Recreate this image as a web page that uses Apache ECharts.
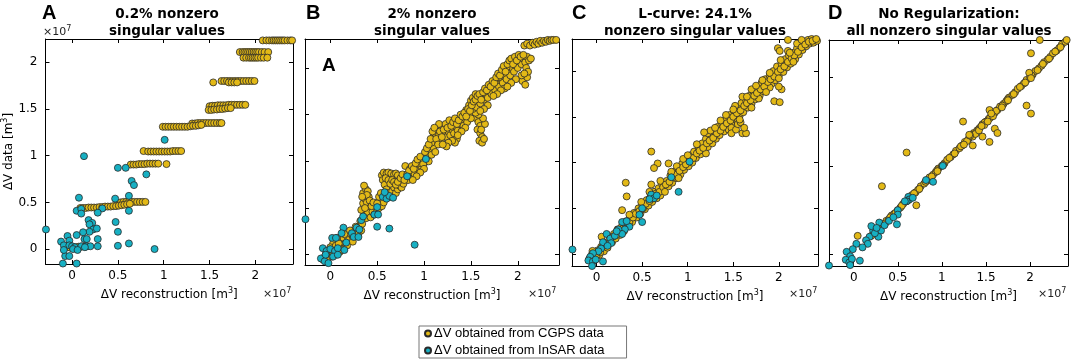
<!DOCTYPE html>
<html>
<head>
<meta charset="utf-8">
<script src="https://cdn.jsdelivr.net/npm/echarts@6/dist/echarts.min.js"></script>
<style>
  html, body { margin: 0; padding: 0; background: #fff; }
  #chart { width: 1072px; height: 361px; }
</style>
</head>
<body>
<div id="chart"></div>
<script>
// all values in units of 10^7 m^3, pairs are [reconstruction, data]
var tickValues = [0, 0.5, 1, 1.5, 2];

// A: 0.2% nonzero singular values
var aCgps = [
  [2.08,2.235],[2.12,2.235],[2.15,2.235],[2.18,2.235],[2.2,2.235],[2.22,2.235],[2.24,2.235],[2.26,2.235],[2.28,2.235],[2.3,2.235],[2.32,2.235],[2.35,2.235],[2.38,2.235],[2.4,2.235],
  [1.83,2.11],[1.86,2.11],[1.88,2.11],[1.9,2.11],[1.92,2.11],[1.94,2.11],[1.96,2.11],[1.98,2.11],[2.0,2.11],[2.02,2.11],[2.04,2.11],[2.07,2.11],[2.1,2.11],[2.14,2.11],
  [1.87,2.05],[1.9,2.05],[1.93,2.05],[1.95,2.05],[1.97,2.05],[1.99,2.05],[2.01,2.05],[2.03,2.05],[2.06,2.05],[2.09,2.05],[2.13,2.05],
  [1.54,1.785],[1.63,1.8],[1.66,1.8],[1.69,1.8],[1.72,1.8],[1.75,1.8],[1.78,1.8],[1.81,1.8],[1.84,1.8],[1.87,1.8],[1.9,1.8],[1.93,1.8],[1.96,1.8],[1.99,1.8],[1.71,1.785],[1.74,1.785],[1.77,1.785],[1.8,1.785],
  [1.5,1.53],[1.53,1.535],[1.56,1.535],[1.59,1.54],[1.62,1.54],[1.65,1.54],[1.68,1.54],[1.71,1.545],[1.74,1.545],[1.77,1.545],[1.8,1.545],[1.83,1.545],[1.86,1.545],[1.89,1.545],
  [1.49,1.49],[1.52,1.49],[1.55,1.495],[1.58,1.495],[1.61,1.5],[1.64,1.5],[1.67,1.505],[1.7,1.51],[1.73,1.51],
  [1.31,1.345],[1.34,1.345],[1.37,1.35],[1.4,1.35],[1.43,1.35],[1.46,1.35],[1.49,1.35],[1.52,1.35],[1.55,1.35],[1.58,1.35],[1.61,1.35],[1.63,1.35],
  [0.99,1.31],[1.02,1.31],[1.05,1.31],[1.08,1.31],[1.11,1.31],[1.14,1.31],[1.17,1.31],[1.2,1.31],[1.23,1.31],[1.26,1.31],[1.29,1.315],[1.32,1.32],[1.35,1.32],[1.38,1.325],[1.41,1.33],
  [0.78,1.05],[0.83,1.045],[0.86,1.045],[0.89,1.045],[0.92,1.045],[0.95,1.045],[0.98,1.045],[1.01,1.045],[1.04,1.045],[1.07,1.045],[1.1,1.05],[1.13,1.05],[1.16,1.05],[1.19,1.05],
  [0.64,0.905],[0.67,0.905],[0.7,0.905],[0.73,0.91],[0.76,0.91],[0.79,0.91],[0.82,0.915],[0.85,0.915],[0.88,0.915],[0.91,0.915],[0.94,0.915],[1.03,0.91],
  [0.5,0.49],[0.53,0.5],[0.56,0.505],[0.59,0.505],[0.62,0.505],[0.65,0.505],[0.68,0.505],[0.71,0.505],[0.74,0.505],[0.77,0.505],[0.8,0.505],
  [0.09,0.44],[0.12,0.44],[0.15,0.44],[0.18,0.445],[0.21,0.445],[0.24,0.445],[0.27,0.445],[0.3,0.45],[0.33,0.45],[0.36,0.455],[0.39,0.455],[0.42,0.455],[0.45,0.46],[0.48,0.46],[0.51,0.465],[0.54,0.47],[0.57,0.475],[0.6,0.48],[0.63,0.485],
  [-0.08,0.02],[-0.05,0.02],[-0.02,0.015],[0.01,0.02],[0.04,0.02],[0.07,0.025],[0.1,0.025],[0.13,0.03],[0.16,0.03]
];
var aInsar = [
  [1.01,1.17],[0.13,0.995],[0.5,0.87],[0.585,0.87],[0.81,0.8],[0.65,0.73],[0.675,0.685],[0.075,0.55],[0.47,0.54],[0.62,0.57],
  [0.05,0.41],[0.1,0.43],[0.1,0.38],[0.33,0.435],[0.28,0.39],[0.62,0.41],[0.475,0.29],[0.18,0.31],[0.22,0.28],[0.19,0.265],
  [0.23,0.21],[0.27,0.22],[0.19,0.185],[0.5,0.185],[0.12,0.18],[0.135,0.107],[0.16,0.107],[0.28,0.107],[0.05,0.15],[-0.05,0.14],
  [-0.12,0.08],[-0.03,0.09],[-0.09,0.04],[-0.03,0.04],[0.0,0.03],[0.03,0.02],[0.1,0.03],[0.16,0.03],[0.2,0.03],[0.28,0.03],
  [0.5,0.035],[0.62,0.06],[0.9,0.0],[-0.075,-0.075],[-0.03,-0.075],[-0.1,-0.155],[0.05,-0.155],[0.01,0.0],[0.06,-0.01],[0.14,0.02],
  [-0.09,-0.01],[-0.285,0.21]
];

// B: 2% nonzero singular values
var bCgps = [
  [-0.08,-0.05],[-0.05,0.0],[-0.02,-0.03],[0.0,0.02],[0.02,-0.02],[0.04,0.04],[0.06,0.0],[0.08,0.06],[0.05,0.1],[0.1,0.03],[0.12,0.1],[0.1,0.15],[0.14,0.18],[0.16,0.12],[0.18,0.2],[0.2,0.16],[0.22,0.22],[0.24,0.19],[0.26,0.25],[0.28,0.22],[0.03,0.12],[0.07,0.18],
  [0.3,0.3],[0.32,0.36],[0.34,0.33],[0.36,0.42],[0.33,0.48],[0.35,0.55],[0.37,0.6],[0.35,0.66],[0.38,0.7],[0.36,0.74],[0.4,0.68],[0.41,0.62],[0.39,0.56],[0.42,0.5],[0.4,0.45],[0.38,0.39],[0.43,0.4],[0.45,0.46],[0.47,0.43],[0.5,0.48],[0.48,0.52],[0.52,0.5],[0.55,0.52],[0.53,0.58],[0.57,0.56],
  [0.55,0.85],[0.57,0.88],[0.6,0.87],[0.62,0.88],[0.65,0.87],[0.68,0.86],[0.7,0.87],[0.72,0.85],[0.56,0.8],[0.58,0.75],[0.6,0.7],[0.62,0.66],[0.64,0.62],[0.66,0.68],[0.68,0.72],[0.7,0.66],[0.72,0.7],[0.74,0.74],[0.76,0.72],[0.78,0.76],[0.74,0.8],[0.8,0.82],[0.8,0.95],[0.83,0.8],[0.86,0.84],[0.88,0.88],[0.85,0.92],[0.9,0.86],[0.92,0.92],[0.95,0.9],[0.97,0.95],[0.94,0.98],[1.0,0.98],[0.98,1.02],[1.02,1.04],[1.05,1.0],[1.04,1.08],
  [1.06,1.12],[1.08,1.07],[1.1,1.15],[1.12,1.1],[1.08,1.2],[1.1,1.26],[1.12,1.3],[1.14,1.34],[1.16,1.28],[1.18,1.22],[1.2,1.3],[1.22,1.36],[1.24,1.26],[1.26,1.32],[1.28,1.28],[1.3,1.34],[1.32,1.3],[1.34,1.37],[1.36,1.33],[1.38,1.4],[1.35,1.24],[1.33,1.2],[1.18,1.38],[1.16,1.4],
  [1.56,1.46],[1.58,1.42],[1.6,1.38],[1.57,1.34],[1.6,1.3],[1.62,1.26],[1.59,1.22],[1.62,1.2],[1.64,1.24],[1.61,1.34],[1.65,1.4],[1.63,1.46],[1.58,1.5],[1.55,1.52],
  [1.4,1.44],[1.42,1.38],[1.44,1.46],[1.46,1.42],[1.48,1.5],[1.5,1.46],[1.45,1.55],[1.48,1.6],[1.5,1.65],[1.52,1.56],[1.54,1.62],[1.56,1.58],[1.58,1.66],[1.6,1.62],[1.62,1.7],[1.64,1.66],[1.66,1.72],[1.68,1.68],[1.7,1.76],[1.72,1.72],[1.52,1.68],[1.55,1.72],
  [1.74,1.8],[1.76,1.76],[1.78,1.84],[1.8,1.8],[1.82,1.88],[1.84,1.84],[1.86,1.92],[1.88,1.88],[1.9,1.96],[1.92,1.92],[1.94,2.0],[1.96,1.96],[1.98,2.04],[2.0,2.0],[2.02,2.08],[2.04,2.04],[2.06,2.1],[2.08,2.06],[2.1,2.12],[2.12,2.08],[2.14,2.1],[2.0,2.12],[1.96,2.1],[1.92,2.06],[1.88,2.0],[1.84,1.96],[1.8,1.9],[2.05,1.86],[2.08,1.82],[2.1,1.9],[2.04,1.92],[1.86,1.78],[1.98,1.88],
  [2.07,2.24],[2.1,2.26],[2.13,2.24],[2.16,2.27],[2.18,2.25],[2.2,2.28],[2.22,2.26],[2.24,2.29],[2.26,2.27],[2.28,2.29],[2.3,2.28],[2.32,2.3],[2.34,2.29],[2.36,2.3],[2.38,2.3],[2.41,2.3],
  [0.0,0.08],[0.03,0.0],[0.06,0.1],[0.09,0.12],[0.12,0.05],[0.15,0.22],[0.18,0.1],[0.21,0.26],[0.24,0.14],[0.27,0.3],[0.3,0.22],[0.33,0.26],[0.37,0.5],[0.39,0.64],[0.34,0.62],[0.42,0.58],[0.44,0.52],[0.46,0.56],[0.5,0.55],[0.52,0.62],
  [0.54,0.66],[0.57,0.62],[0.59,0.82],[0.62,0.8],[0.64,0.76],[0.66,0.8],[0.68,0.78],[0.7,0.75],[0.72,0.78],[0.75,0.82],[0.77,0.86],[0.79,0.8],[0.82,0.86],[0.84,0.9],[0.87,0.95],[0.89,0.92],[0.91,0.98],[0.93,1.02],[0.96,1.05],[0.99,0.97],
  [1.01,1.1],[1.03,1.14],[1.05,1.18],[1.07,1.24],[1.09,1.32],[1.11,1.36],[1.13,1.24],[1.15,1.18],[1.17,1.32],[1.19,1.26],[1.21,1.34],[1.23,1.4],[1.25,1.36],[1.27,1.44],[1.29,1.38],[1.31,1.42],[1.33,1.46],[1.35,1.4],[1.37,1.44],[1.39,1.5],
  [1.41,1.48],[1.43,1.52],[1.45,1.48],[1.47,1.56],[1.49,1.54],[1.51,1.6],[1.53,1.64],[1.55,1.66],[1.57,1.7],[1.59,1.72],[1.61,1.66],[1.63,1.74],[1.65,1.78],[1.67,1.76],[1.69,1.82],[1.71,1.8],[1.73,1.86],[1.75,1.84],[1.77,1.9],[1.79,1.94],
  [1.81,1.92],[1.83,1.98],[1.85,2.02],[1.87,1.96],[1.89,2.04],[1.91,2.08],[1.93,2.1],[1.95,2.04],[1.97,2.12],[1.99,2.08],[2.01,2.14],[2.03,2.12],[2.06,2.14],[2.09,2.0],[2.11,1.96],[2.07,1.94],[1.93,1.84],[1.89,1.8],[1.82,1.76],[1.78,1.72],
  [1.74,1.7],[1.68,1.6],[1.64,1.56],[1.6,1.54],[1.44,1.36],[1.4,1.32],[1.36,1.28],[1.3,1.22],[1.26,1.2],[1.24,1.16],[1.2,1.18],[1.0,0.92],[0.96,0.88],[0.92,0.84],[0.88,0.8]
];
var bInsar = [
  [-0.265,0.38],[1.02,1.025],[0.82,0.84],[0.56,0.62],[0.6,0.6],[0.63,0.63],[0.67,0.61],[0.58,0.67],[0.5,0.51],[0.47,0.43],
  [0.51,0.43],[0.5,0.3],[0.63,0.28],[0.9,0.107],[0.33,0.37],[0.35,0.41],[0.28,0.29],[0.31,0.27],[0.14,0.29],[0.12,0.23],
  [0.23,0.23],[0.25,0.19],[0.3,0.19],[0.02,0.18],[0.06,0.18],[-0.08,0.07],[-0.04,0.04],[0.0,0.06],[0.05,0.04],[0.08,0.07],
  [-0.1,-0.04],[-0.06,-0.07],[-0.02,-0.09],[0.03,-0.02],[0.08,0.0],[0.15,0.05],[0.17,0.13],[-0.05,0.0]
];

// C: L-curve, 24.1% nonzero singular values
var cCgps = [
  [-0.08,-0.05],[-0.05,0.0],[-0.02,-0.04],[0.01,0.04],[0.03,-0.01],[0.05,0.08],[0.08,0.03],[0.1,0.12],[0.12,0.07],[0.14,0.16],[0.17,0.13],[0.19,0.22],[0.21,0.17],[0.23,0.27],[0.26,0.21],[0.28,0.31],[0.3,0.25],[0.33,0.36],[0.35,0.31],[0.37,0.42],[0.39,0.35],[0.41,0.45],[0.44,0.4],[0.46,0.5],[0.48,0.44],[0.5,0.54],[0.53,0.49],[0.55,0.59],[0.57,0.53],[0.59,0.62],[0.61,0.57],[0.63,0.68],[0.66,0.61],[0.68,0.72],[0.7,0.64],[0.72,0.76],[0.74,0.7],[0.77,0.8],[0.79,0.74],[0.81,0.86],[0.83,0.78],[0.85,0.9],[0.87,0.83],[0.9,0.93],[0.92,0.87],[0.94,0.99],[0.96,0.92],[0.99,1.03],[1.01,0.96],[1.03,1.08],[1.05,1.0],[1.07,1.12],[1.09,1.05],[1.12,1.16],[1.14,1.09],[1.16,1.21],[1.18,1.13],[1.2,1.26],[1.22,1.17],[1.25,1.29],[1.27,1.21],[1.29,1.34],[1.31,1.26],[1.33,1.39],[1.35,1.3],[1.38,1.42],[1.4,1.34],[1.42,1.47],[1.44,1.39],[1.46,1.52],[1.48,1.43],[1.51,1.56],[1.53,1.47],[1.55,1.6],[1.57,1.51],[1.59,1.65],[1.61,1.55],[1.64,1.68],[1.66,1.6],[1.68,1.73],[1.7,1.64],[1.72,1.78],[1.74,1.69],[1.77,1.81],[1.79,1.73],[1.81,1.87],[1.83,1.78],[1.85,1.91],[1.87,1.82],[1.9,1.95],[1.92,1.86],[1.94,2.0],[1.96,1.9],[1.98,2.05],[2.0,1.95],[2.03,2.08],[2.05,1.99],[2.07,2.13],[2.09,2.04],[2.11,2.17],[2.13,2.08],[2.16,2.2],[2.18,2.13],[2.2,2.25],[2.22,2.18],[2.24,2.29],[2.26,2.23],[2.28,2.32],[2.3,2.27],[2.32,2.34],[2.34,2.3],[2.36,2.35],[2.38,2.31],[2.4,2.34],[2.42,2.33],
  [1.1,1.2],[1.22,1.32],[1.36,1.46],[1.52,1.62],[1.6,1.72],[1.7,1.8],[0.7,0.8],[0.58,0.68],[0.88,0.96],[1.45,1.36],[1.2,1.1],[1.78,1.7],[1.9,1.82],[2.1,2.22],[2.2,2.3],[2.25,2.34],
  [0.0,-0.02],[0.04,0.02],[0.07,0.09],[0.11,0.1],[0.15,0.14],[0.18,0.19],[0.22,0.21],[0.25,0.26],[0.29,0.28],[0.32,0.32],[0.36,0.35],[0.4,0.4],[0.43,0.44],[0.47,0.47],[0.51,0.5],[0.54,0.55],[0.58,0.58],[0.62,0.61],[0.65,0.66],[0.69,0.68],
  [0.73,0.73],[0.76,0.76],[0.8,0.79],[0.84,0.84],[0.88,0.87],[0.91,0.91],[0.95,0.95],[0.98,0.98],[1.02,1.02],[1.06,1.05],[1.1,1.1],[1.13,1.13],[1.17,1.16],[1.21,1.21],[1.24,1.24],[1.28,1.27],[1.32,1.32],[1.36,1.35],[1.39,1.39],[1.43,1.43],
  [1.47,1.46],[1.5,1.5],[1.54,1.54],[1.58,1.57],[1.62,1.62],[1.65,1.65],[1.69,1.68],[1.73,1.73],[1.76,1.76],[1.8,1.8],[1.84,1.83],[1.88,1.88],[1.91,1.91],[1.95,1.94],[1.99,1.99],[2.02,2.02],[2.06,2.05],[2.1,2.1],[2.14,2.14],[2.17,2.17],
  [2.21,2.21],[2.25,2.26],[2.29,2.29],[2.33,2.32],[2.37,2.33],[2.41,2.35],
  [1.25,1.35],[1.3,1.38],[1.42,1.52],[1.5,1.58],[1.65,1.72],[1.75,1.84],[1.82,1.9],[1.9,1.98],[2.02,2.12],[2.12,2.2],[1.48,1.38],[1.55,1.45],[1.7,1.6],[1.86,1.77],[2.0,1.92],[2.16,2.1],[0.95,1.04],[1.0,1.08],[0.9,0.83],[0.75,0.68],[0.82,0.9],
  [2.1,2.34],[1.99,2.25],[2.01,2.22],[1.95,1.67],[2.01,1.66],[2.03,1.8],[2.0,1.83],[1.6,1.32],[1.64,1.32],[1.48,1.32],[1.53,1.36],[1.55,1.42],[1.58,1.44],[1.18,1.33],[0.6,1.12],[0.67,0.99],[0.63,0.94],[0.79,0.99],[0.32,0.78],[0.33,0.63],[0.6,0.76],[0.49,0.57],[0.28,0.48],[0.36,0.43],[0.055,0.19],[-0.045,0.035],[1.62,1.38],[1.57,1.47]
];
var cInsar = [
  [-0.265,0.05],[1.02,1.01],[0.82,0.84],[0.9,0.68],[0.6,0.65],[0.63,0.61],[0.58,0.6],[0.66,0.64],[0.5,0.5],[0.47,0.43],
  [0.5,0.35],[0.31,0.35],[0.28,0.35],[0.36,0.3],[0.31,0.27],[0.24,0.27],[0.28,0.22],[0.11,0.22],[0.15,0.17],[0.07,0.13],
  [0.16,0.12],[0.05,0.06],[0.02,0.03],[-0.04,0.01],[-0.07,-0.03],[-0.09,-0.07],[-0.04,-0.08],[-0.01,-0.06],[0.07,-0.08],[-0.05,-0.13],
  [0.2,0.2],[0.12,0.09],[0.22,0.25],[0.33,0.36]
];

// D: no regularization
var dCgps = [
  [0.3,0.3],[0.34,0.34],[0.37,0.38],[0.4,0.4],[0.43,0.44],[0.46,0.46],[0.5,0.5],[0.53,0.53],[0.56,0.57],[0.6,0.6],[0.63,0.63],[0.66,0.67],[0.7,0.7],[0.73,0.73],[0.76,0.77],[0.8,0.8],[0.83,0.83],[0.86,0.87],[0.9,0.9],[0.93,0.93],[0.96,0.97],[1.0,1.0],[1.03,1.03],[1.06,1.07],[1.1,1.1],[1.13,1.13],[1.16,1.17],[1.2,1.2],[1.23,1.23],[1.26,1.27],[1.3,1.3],[1.33,1.33],[1.36,1.37],[1.4,1.4],[1.43,1.43],[1.46,1.47],[1.5,1.5],[1.53,1.53],[1.56,1.57],[1.6,1.6],[1.63,1.63],[1.66,1.67],[1.7,1.7],[1.73,1.73],[1.76,1.77],[1.8,1.8],[1.83,1.83],[1.86,1.87],[1.9,1.9],[1.93,1.93],[1.96,1.97],[2.0,2.0],[2.03,2.03],[2.06,2.07],[2.1,2.1],[2.13,2.13],[2.16,2.17],[2.2,2.2],[2.23,2.23],[2.26,2.27],[2.3,2.3],[2.33,2.33],[2.36,2.37],[2.4,2.4],
  [0.355,0.35],[0.415,0.42],[0.475,0.47],[0.545,0.55],[0.615,0.61],[0.685,0.69],[0.745,0.74],[0.815,0.82],[0.885,0.88],[0.945,0.95],[1.015,1.01],[1.085,1.09],[1.145,1.14],[1.215,1.22],[1.285,1.28],[1.345,1.35],[1.415,1.41],[1.485,1.49],[1.545,1.54],[1.615,1.62],
  [1.685,1.68],[1.745,1.75],[1.815,1.81],[1.885,1.89],[1.945,1.94],[2.015,2.02],[2.085,2.08],[2.145,2.15],[2.215,2.21],[2.285,2.29],[2.345,2.34],[2.415,2.42],
  [1.35,1.33],[1.38,1.36],[1.42,1.4],[1.48,1.46],[1.52,1.5],[1.58,1.56],[1.68,1.66],[1.75,1.74],[0.95,0.94],[1.25,1.24],[1.32,1.34],[1.45,1.45],[0.2,0.21],[0.25,0.24],
  [2.11,2.42],[2.01,2.27],[1.99,2.05],[2.01,1.99],[1.96,1.68],[2.01,1.59],[1.54,1.63],[1.56,1.59],[1.24,1.5],[1.31,1.35],[1.35,1.23],[1.46,1.33],[1.54,1.27],[1.6,1.42],[1.63,1.37],
  [0.6,1.15],[0.32,0.77],[0.71,0.555],[0.045,0.21]
];
var dInsar = [
  [-0.28,-0.125],[1.01,1.0],[0.82,0.84],[0.9,0.82],[0.62,0.65],[0.63,0.62],[0.67,0.64],[0.6,0.6],[0.58,0.6],[0.5,0.5],
  [0.5,0.45],[0.49,0.34],[0.29,0.36],[0.31,0.27],[0.28,0.2],[0.22,0.27],[0.18,0.2],[0.24,0.24],[0.14,0.16],[0.16,0.12],
  [0.03,0.12],[-0.01,0.06],[-0.08,0.03],[-0.04,-0.02],[-0.09,-0.06],[-0.05,-0.09],[-0.02,-0.05],[0.07,-0.07],[-0.04,-0.12],[0.1,0.08],
  [0.2,0.32],[0.35,0.33],[0.4,0.38],[0.45,0.42],[0.26,0.3]
];

var gold = '#E3B916';
var teal = '#17B0C3';
var edge = '#2a2a2a';
var axisFont = 'DejaVu Sans';
var supRich = { sup: { fontSize: 8, fontFamily: axisFont, color: '#000', padding: [0, 0, 7, 0] } };

var panels = [
  { grid: { left: 41, top: 39, width: 252, height: 225 }, xr: [-0.29, 2.41], yr: [-0.16, 2.25], cgps: aCgps, insar: aInsar },
  { grid: { left: 305, top: 39, width: 254, height: 226 }, xr: [-0.27, 2.44], yr: [-0.11, 2.31], cgps: bCgps, insar: bInsar },
  { grid: { left: 572, top: 39, width: 246, height: 227 }, xr: [-0.27, 2.43], yr: [-0.13, 2.35], cgps: cCgps, insar: cInsar },
  { grid: { left: 829, top: 40, width: 239, height: 226 }, xr: [-0.28, 2.43], yr: [-0.13, 2.42], cgps: dCgps, insar: dInsar }
];

var grids = [], xAxes = [], yAxes = [], series = [];
panels.forEach(function (p, i) {
  grids.push(p.grid);
  [false, true].forEach(function (mirror) {
    xAxes.push({
      gridIndex: i, type: 'value', min: p.xr[0], max: p.xr[1],
      position: mirror ? 'top' : 'bottom',
      axisLine: { show: true, onZero: false, lineStyle: { color: '#000', width: 1 } },
      axisTick: { show: true, inside: true, length: 4, customValues: tickValues, lineStyle: { color: '#000' } },
      axisLabel: { show: !mirror, customValues: tickValues, color: '#000', fontSize: 12, fontFamily: axisFont, margin: 6 },
      splitLine: { show: false },
      name: mirror ? '' : 'ΔV reconstruction [m{sup|3}]',
      nameLocation: 'middle', nameGap: 23,
      nameTextStyle: { color: '#000', fontSize: 12, fontFamily: axisFont, rich: supRich }
    });
    yAxes.push({
      gridIndex: i, type: 'value', min: p.yr[0], max: p.yr[1],
      position: mirror ? 'right' : 'left',
      axisLine: { show: true, onZero: false, lineStyle: { color: '#000', width: 1 } },
      axisTick: { show: true, inside: true, length: 4, customValues: tickValues, lineStyle: { color: '#000' } },
      axisLabel: { show: i === 0 && !mirror, customValues: tickValues, color: '#000', fontSize: 12, fontFamily: axisFont, margin: 8 },
      splitLine: { show: false },
      name: (i === 0 && !mirror) ? 'ΔV data [m{sup|3}]' : '',
      nameLocation: 'middle', nameGap: 24,
      nameTextStyle: { color: '#000', fontSize: 12, fontFamily: axisFont, rich: supRich }
    });
  });
  series.push({
    name: 'ΔV obtained from CGPS data', type: 'scatter', xAxisIndex: 2 * i, yAxisIndex: 2 * i,
    symbolSize: 7, data: p.cgps, animation: false,
    itemStyle: { color: gold, borderColor: edge, borderWidth: 0.8, opacity: 1 }
  });
  series.push({
    name: 'ΔV obtained from InSAR data', type: 'scatter', xAxisIndex: 2 * i, yAxisIndex: 2 * i,
    symbolSize: 7, data: p.insar, animation: false,
    itemStyle: { color: teal, borderColor: edge, borderWidth: 0.8, opacity: 1 }
  });
});

function txt(x, y, text, font, align, extra) {
  var st = { text: text, font: font, fill: '#000', textAlign: align, align: align,
             textVerticalAlign: 'middle', verticalAlign: 'middle', lineHeight: 16 };
  if (extra) { for (var k in extra) st[k] = extra[k]; }
  return { type: 'text', x: x, y: y, style: st, silent: true };
}
var titleFont = 'bold 13.5px DejaVu Sans';
var letterFont = 'bold 20px Liberation Sans';
var expRich = { rich: { sup: { fontSize: 8, fontFamily: axisFont, fill: '#222', padding: [0, 0, 7, 0] } }, fill: '#222' };

var graphics = [
  txt(42, 13, 'A', letterFont, 'left'),
  txt(306, 13, 'B', letterFont, 'left'),
  txt(572, 13, 'C', letterFont, 'left'),
  txt(828, 13, 'D', letterFont, 'left'),
  txt(322, 66, 'A', 'bold 19px Liberation Sans', 'left'),
  txt(167, 23, '0.2% nonzero\nsingular values', titleFont, 'center', { lineHeight: 16.5 }),
  txt(432, 23, '2% nonzero\nsingular values', titleFont, 'center', { lineHeight: 16.5 }),
  txt(695, 23, 'L-curve: 24.1%\nnonzero singular values', titleFont, 'center', { lineHeight: 16.5 }),
  txt(949, 23, 'No Regularization:\nall nonzero singular values', titleFont, 'center', { lineHeight: 16.5 }),
  txt(43, 32, '×10{sup|7}', '11px DejaVu Sans', 'left', expRich),
  txt(263, 294, '×10{sup|7}', '11px DejaVu Sans', 'left', expRich),
  txt(528, 294, '×10{sup|7}', '11px DejaVu Sans', 'left', expRich),
  txt(789, 294, '×10{sup|7}', '11px DejaVu Sans', 'left', expRich),
  txt(1038, 294, '×10{sup|7}', '11px DejaVu Sans', 'left', expRich)
];

var chart = echarts.init(document.getElementById('chart'), null, { renderer: 'canvas' });
chart.setOption({
  backgroundColor: '#fff',
  animation: false,
  grid: grids,
  xAxis: xAxes,
  yAxis: yAxes,
  series: series,
  legend: {
    data: ['ΔV obtained from CGPS data', 'ΔV obtained from InSAR data'],
    orient: 'vertical', left: 419, top: 326,
    icon: 'circle', itemWidth: 6, itemHeight: 6, itemGap: 4,
    padding: [1, 22, 1, 5],
    borderColor: '#777', borderWidth: 1, selectedMode: false,
    textStyle: { fontSize: 13, fontFamily: 'Liberation Sans', color: '#000', padding: [0, 0, 0, -2] }
  },
  graphic: graphics
});
</script>
</body>
</html>
